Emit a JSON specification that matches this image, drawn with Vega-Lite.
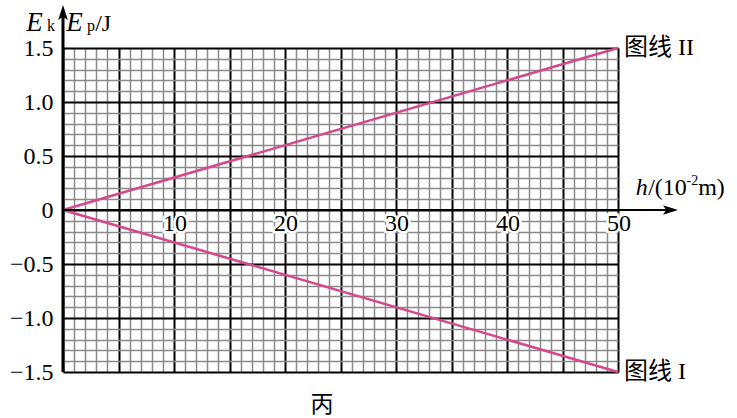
{
  "$schema": "https://vega.github.io/schema/vega-lite/v6.json",
  "width": 555,
  "height": 324,
  "autosize": {"type": "none"},
  "padding": {"left": 63, "top": 48, "right": 119, "bottom": 46},
  "background": "white",
  "config": {
    "view": {"stroke": null},
    "text": {"font": "Liberation Serif", "color": "black"}
  },
  "datasets": {
    "lines": [
      {"series": "图线 I", "h": 0, "E": 0},
      {"series": "图线 I", "h": 50, "E": -1.5},
      {"series": "图线 II", "h": 0, "E": 0},
      {"series": "图线 II", "h": 50, "E": 1.5}
    ],
    "ticks": [
      {"h": 10, "E": 0, "txt": "10"},
      {"h": 20, "E": 0, "txt": "20"},
      {"h": 30, "E": 0, "txt": "30"},
      {"h": 40, "E": 0, "txt": "40"},
      {"h": 50, "E": 0, "txt": "50"}
    ],
    "italicE": [
      {"h": -3.3, "E": 1.66, "txt": "E"},
      {"h": 0.3, "E": 1.66, "txt": "E"}
    ],
    "italicH": [
      {"h": 51.6, "E": 0.139, "txt": "h"}
    ],
    "sub": [
      {"h": -1.44, "E": 1.66, "txt": "k"},
      {"h": 2.16, "E": 1.66, "txt": "p"}
    ],
    "normal": [
      {"h": 2.9, "E": 1.66, "txt": "/J"},
      {"h": 52.72, "E": 0.139, "txt": "/(10"},
      {"h": 57.22, "E": 0.139, "txt": "m)"}
    ],
    "sup": [
      {"h": 56.18, "E": 0.231, "txt": "-2"}
    ],
    "caption": [
      {"h": 23.33, "E": -1.806, "txt": "丙"}
    ]
  },
  "encoding": {
    "x": {
      "field": "h",
      "type": "quantitative",
      "scale": {"domain": [0, 50], "nice": false, "zero": false},
      "axis": {
        "values": [0,1,2,3,4,5,6,7,8,9,10,11,12,13,14,15,16,17,18,19,20,21,22,23,24,25,26,27,28,29,30,31,32,33,34,35,36,37,38,39,40,41,42,43,44,45,46,47,48,49,50],
        "labels": false,
        "ticks": false,
        "domain": false,
        "title": null,
        "grid": true,
        "gridOpacity": 1,
        "gridColor": {"condition": {"test": "datum.value % 5 === 0", "value": "#000000"}, "value": "#8a8a8a"},
        "gridWidth": {"condition": {"test": "datum.value % 5 === 0", "value": 2}, "value": 1.5}
      }
    },
    "y": {
      "field": "E",
      "type": "quantitative",
      "scale": {"domain": [-1.5, 1.5], "nice": false, "zero": false},
      "axis": {
        "values": [-1.5,-1.4,-1.3,-1.2,-1.1,-1.0,-0.9,-0.8,-0.7,-0.6,-0.5,-0.4,-0.3,-0.2,-0.1,0,0.1,0.2,0.3,0.4,0.5,0.6,0.7,0.8,0.9,1.0,1.1,1.2,1.3,1.4,1.5],
        "ticks": false,
        "domain": false,
        "title": null,
        "grid": true,
        "gridOpacity": 1,
        "gridColor": {"condition": {"test": "abs(round(datum.value*10)) % 5 === 0", "value": "#000000"}, "value": "#8a8a8a"},
        "gridWidth": {"condition": {"test": "abs(round(datum.value*10)) % 5 === 0", "value": 2}, "value": 1.5},
        "labelExpr": "abs(round(datum.value*10)) % 5 === 0 ? (abs(datum.value) < 0.01 ? '0' : format(datum.value, '.1f')) : ''",
        "labelOverlap": false,
        "labelBound": false,
        "labelFlush": false,
        "labelFont": "Liberation Serif",
        "labelFontSize": 24,
        "labelColor": "#000000",
        "labelPadding": 10,
        "labelBaseline": "middle"
      }
    }
  },
  "layer": [
    {
      "data": {"name": "lines"},
      "mark": {"type": "line", "color": "#d6488b", "strokeWidth": 2.5, "clip": false},
      "encoding": {"detail": {"field": "series"}}
    },
    {
      "data": {"values": [{"h": 0, "E": -1.5, "E2": 1.8}]},
      "mark": {"type": "rule", "color": "#000000", "strokeWidth": 3, "clip": false},
      "encoding": {"y2": {"field": "E2"}}
    },
    {
      "data": {"values": [{"h": 0, "h2": 54.5, "E": 0}]},
      "mark": {"type": "rule", "color": "#000000", "strokeWidth": 2, "clip": false},
      "encoding": {"x2": {"field": "h2"}}
    },
    {
      "data": {"values": [{"h": 0, "E": 1.817}]},
      "mark": {"type": "point", "shape": "M0,-1L0.55,0.7L0,0.35L-0.55,0.7Z", "size": 310, "filled": true, "color": "#000000", "opacity": 1, "clip": false}
    },
    {
      "data": {"values": [{"h": 54.61, "E": 0}]},
      "mark": {"type": "point", "shape": "M1,0L-0.7,-0.55L-0.35,0L-0.7,0.55Z", "size": 310, "filled": true, "color": "#000000", "opacity": 1, "clip": false}
    },
    {
      "data": {"name": "ticks"},
      "mark": {"type": "text", "fontSize": 24, "baseline": "middle", "align": "center", "dy": 14, "dx": 1, "stroke": "white", "strokeWidth": 5, "fill": "white", "clip": false},
      "encoding": {"text": {"field": "txt"}}
    },
    {
      "data": {"name": "ticks"},
      "mark": {"type": "text", "fontSize": 24, "baseline": "middle", "align": "center", "dy": 14, "dx": 1, "clip": false},
      "encoding": {"text": {"field": "txt"}}
    },
    {
      "data": {"name": "lines"},
      "transform": [{"filter": "datum.h === 50"}],
      "mark": {"type": "text", "font": "Liberation Serif, Noto Sans CJK SC", "fontSize": 24, "align": "left", "baseline": "middle", "dx": 6, "clip": false},
      "encoding": {"text": {"field": "series"}}
    },
    {
      "data": {"name": "italicE"},
      "mark": {"type": "text", "fontSize": 27, "fontStyle": "italic", "align": "left", "baseline": "alphabetic", "clip": false},
      "encoding": {"text": {"field": "txt"}}
    },
    {
      "data": {"name": "italicH"},
      "mark": {"type": "text", "fontSize": 24, "fontStyle": "italic", "align": "left", "baseline": "alphabetic", "clip": false},
      "encoding": {"text": {"field": "txt"}}
    },
    {
      "data": {"name": "sub"},
      "mark": {"type": "text", "fontSize": 16, "align": "left", "baseline": "alphabetic", "clip": false},
      "encoding": {"text": {"field": "txt"}}
    },
    {
      "data": {"name": "normal"},
      "mark": {"type": "text", "fontSize": 24, "align": "left", "baseline": "alphabetic", "clip": false},
      "encoding": {"text": {"field": "txt"}}
    },
    {
      "data": {"name": "sup"},
      "mark": {"type": "text", "fontSize": 14, "align": "left", "baseline": "alphabetic", "clip": false},
      "encoding": {"text": {"field": "txt"}}
    },
    {
      "data": {"name": "caption"},
      "mark": {"type": "text", "font": "Noto Sans CJK SC", "fontSize": 23, "align": "center", "baseline": "middle", "clip": false},
      "encoding": {"text": {"field": "txt"}}
    }
  ]
}
